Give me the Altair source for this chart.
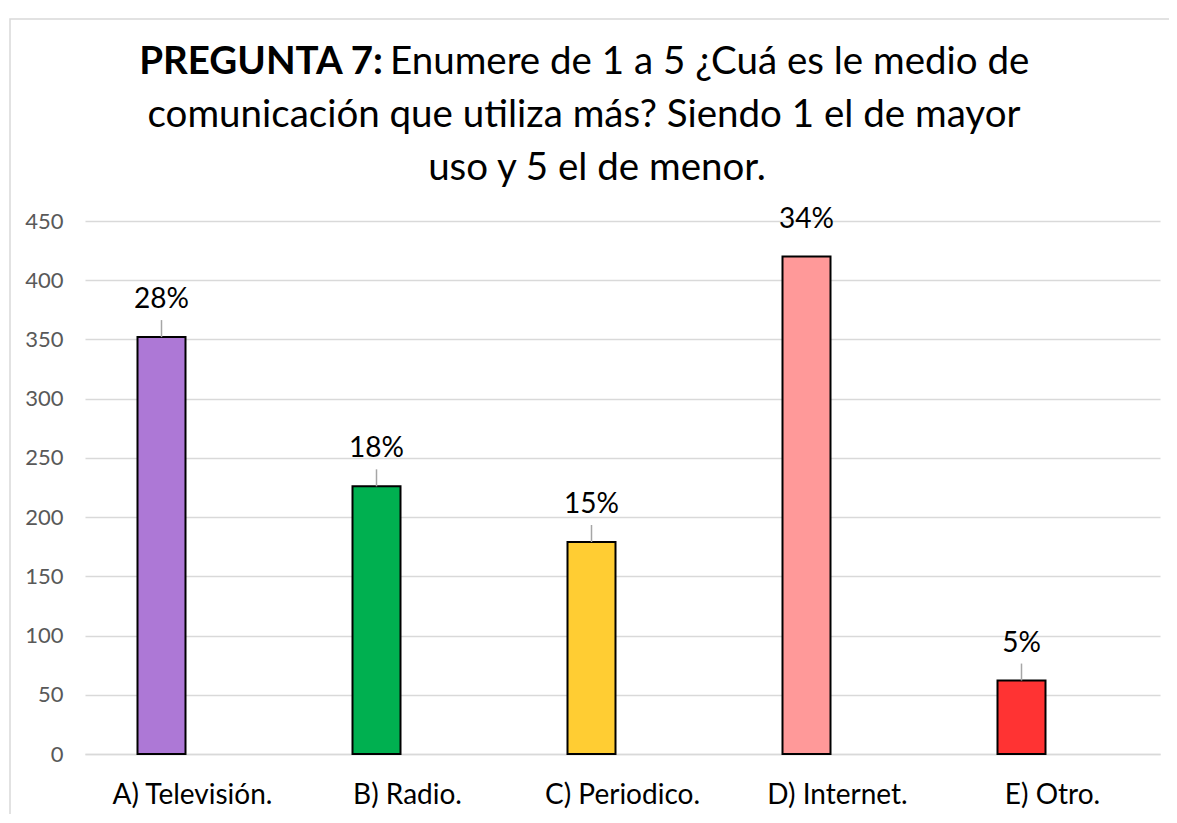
import altair as alt
import pandas as pd

categories = ["A) Televisión.", "B) Radio.", "C) Periodico.", "D) Internet.", "E) Otro."]
values = [352, 226, 179, 420, 62]
pct_labels = ["28%", "18%", "15%", "34%", "5%"]
leader = [True, True, True, False, True]
colors = ["#AD78D6", "#00B050", "#FFCD33", "#FF9999", "#FF3333"]
y_ticks = [0, 50, 100, 150, 200, 250, 300, 350, 400, 450]
title_bold = "PREGUNTA 7:"
title_line1 = "Enumere de 1 a 5 ¿Cuá es le medio de"
title_line2 = "comunicación que utiliza más? Siendo 1 el de mayor"
title_line3 = "uso y 5 el de menor."

FONT = "Lato"

df = pd.DataFrame({"cat": categories, "val": values, "pct": pct_labels, "leader": leader})

x = alt.X(
    "cat:N",
    sort=categories,
    scale=alt.Scale(domain=categories, paddingInner=0, paddingOuter=0),
    axis=alt.Axis(title=None, labelAngle=0, labelFontSize=28, labelColor="#000000",
                  labelPadding=27, ticks=False, domainColor="#d9d9d9", domainWidth=1.5,
                  labelFont=FONT),
)
y = alt.Y(
    "val:Q",
    scale=alt.Scale(domain=[0, 450]),
    axis=alt.Axis(values=y_ticks, title=None, ticks=False, domain=False, labelFontSize=22,
                  labelColor="#595959", labelPadding=22, gridColor="#d9d9d9", gridWidth=1.5,
                  labelFont=FONT),
)

base = alt.Chart(df)

bars = base.mark_bar(size=48, xOffset=-31, stroke="black", strokeWidth=2).encode(
    x=x, y=y,
    color=alt.Color("cat:N", scale=alt.Scale(domain=categories, range=colors), legend=None),
)

rules = base.transform_filter("datum.leader").mark_rule(
    xOffset=-31, y2Offset=-17, color="#a6a6a6", strokeWidth=1.5
).encode(x=x, y=y, y2="val:Q")

labels = base.mark_text(
    xOffset=-31, yOffset=-37, fontSize=28, font=FONT, color="black", baseline="middle"
).encode(x=x, y=y, text="pct:N")

one = pd.DataFrame({"a": [0]})

border = alt.Chart(one).mark_rect(fill=None, stroke="#d9d9d9", strokeWidth=1.5).encode(
    x=alt.value(-75), x2=alt.value(1300), y=alt.value(-202), y2=alt.value(800)
)

def title_text(txt, xpos, ypos, align, weight="normal"):
    return alt.Chart(pd.DataFrame({"t": [txt]})).mark_text(
        fontSize=38.5, font=FONT, fontWeight=weight, align=align, baseline="alphabetic",
        color="black"
    ).encode(x=alt.value(xpos), y=alt.value(ypos), text="t:N")

t0 = title_text(title_bold, 298, -147, "right", "bold")
t1 = title_text(title_line1, 305, -147, "left")
t2 = title_text(title_line2, 499, -94, "center")
t3 = title_text(title_line3, 512, -41, "center")

chart = alt.layer(border, bars, rules, labels, t0, t1, t2, t3).properties(
    width=1075,
    height=533,
    autosize=alt.AutoSizeParams(type="none"),
    padding={"left": 77, "top": 213, "right": 9, "bottom": 60},
    background="white",
).configure_view(stroke=None)

chart.save("out.html", embed_options={"renderer": "svg", "actions": False})
